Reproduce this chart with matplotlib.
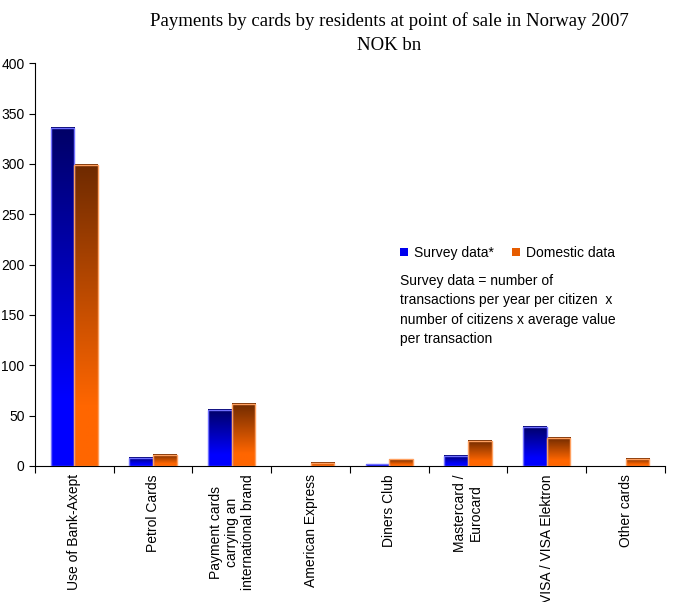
import numpy as np
import matplotlib.pyplot as plt
from matplotlib.colors import LinearSegmentedColormap
from matplotlib.patches import Patch

categories = ["Use of Bank-Axept", "Petrol Cards",
              "Payment cards\ncarrying an\ninternational brand",
              "American Express", "Diners Club", "Mastercard /\nEurocard",
              "VISA / VISA Elektron", "Other cards"]
survey = [336, 8, 56, 0, 1.5, 10, 39, 0]
domestic = [299, 11, 62, 3, 6.5, 25, 28, 7]

plt.rcParams['font.family'] = ['Liberation Sans', 'DejaVu Sans']

fig = plt.figure(figsize=(6.73, 6.02), dpi=100)
ax = fig.add_axes([0.052, 0.226, 0.936, 0.669])

# gradients: dark at top, bright near the bottom
blue_cm = LinearSegmentedColormap.from_list("b", [(0, "#0000ff"), (0.2, "#0000ff"), (1, "#000066")])
orange_cm = LinearSegmentedColormap.from_list("o", [(0, "#ff6600"), (0.2, "#ff6600"), (1, "#6e2a00")])
grad = np.linspace(0, 1, 256).reshape(-1, 1)

w = 0.3
x = np.arange(len(categories))
for xs, vals, cm, ec in [(x - w / 2, survey, blue_cm, "#7070ff"),
                         (x + w / 2, domestic, orange_cm, "#ffa060")]:
    for xi, v in zip(xs, vals):
        if v <= 0:
            continue
        ax.imshow(grad, cmap=cm, origin="lower", aspect="auto",
                  extent=[xi - w / 2, xi + w / 2, 0, v], zorder=2)
        ax.add_patch(plt.Rectangle((xi - w / 2, 0), w, v, fill=False,
                                   edgecolor=ec, linewidth=1, zorder=3))

ax.set_xlim(-0.5, len(categories) - 0.5)
ax.set_ylim(0, 400)
ax.set_yticks(range(0, 401, 50))
ax.tick_params(axis="y", labelsize=10, length=4, direction="out")
ax.set_xticks(np.arange(len(categories) + 1) - 0.5)
ax.set_xticklabels([])
ax.tick_params(axis="x", length=5, direction="out")
ax.set_xticks(x, minor=True)
ax.set_xticklabels(categories, minor=True, rotation=90, fontsize=10,
                   ha="center", va="top", multialignment="center")
ax.tick_params(axis="x", which="minor", length=0, pad=6)
for s in ["top", "right"]:
    ax.spines[s].set_visible(False)

fig.text(0.578, 0.965, "Payments by cards by residents at point of sale in Norway 2007",
         ha="center", va="center", family="Liberation Serif", fontsize=13.5)
fig.text(0.578, 0.924, "NOK bn", ha="center", va="center",
         family="Liberation Serif", fontsize=13.5)

handles = [Patch(facecolor="#0000ee", edgecolor="none"),
           Patch(facecolor="#e65c00", edgecolor="none")]
fig.legend(handles, ["Survey data*", "Domestic data"], loc="center left",
           bbox_to_anchor=(0.576, 0.580), ncol=2, frameon=False, fontsize=10,
           handlelength=0.6, handleheight=0.6, handletextpad=0.4, columnspacing=1.3)
fig.text(0.594, 0.545, "Survey data = number of\ntransactions per year per citizen  x\n"
         "number of citizens x average value\nper transaction",
         ha="left", va="top", fontsize=10, linespacing=1.5)

fig.savefig("out.png", dpi=100)
